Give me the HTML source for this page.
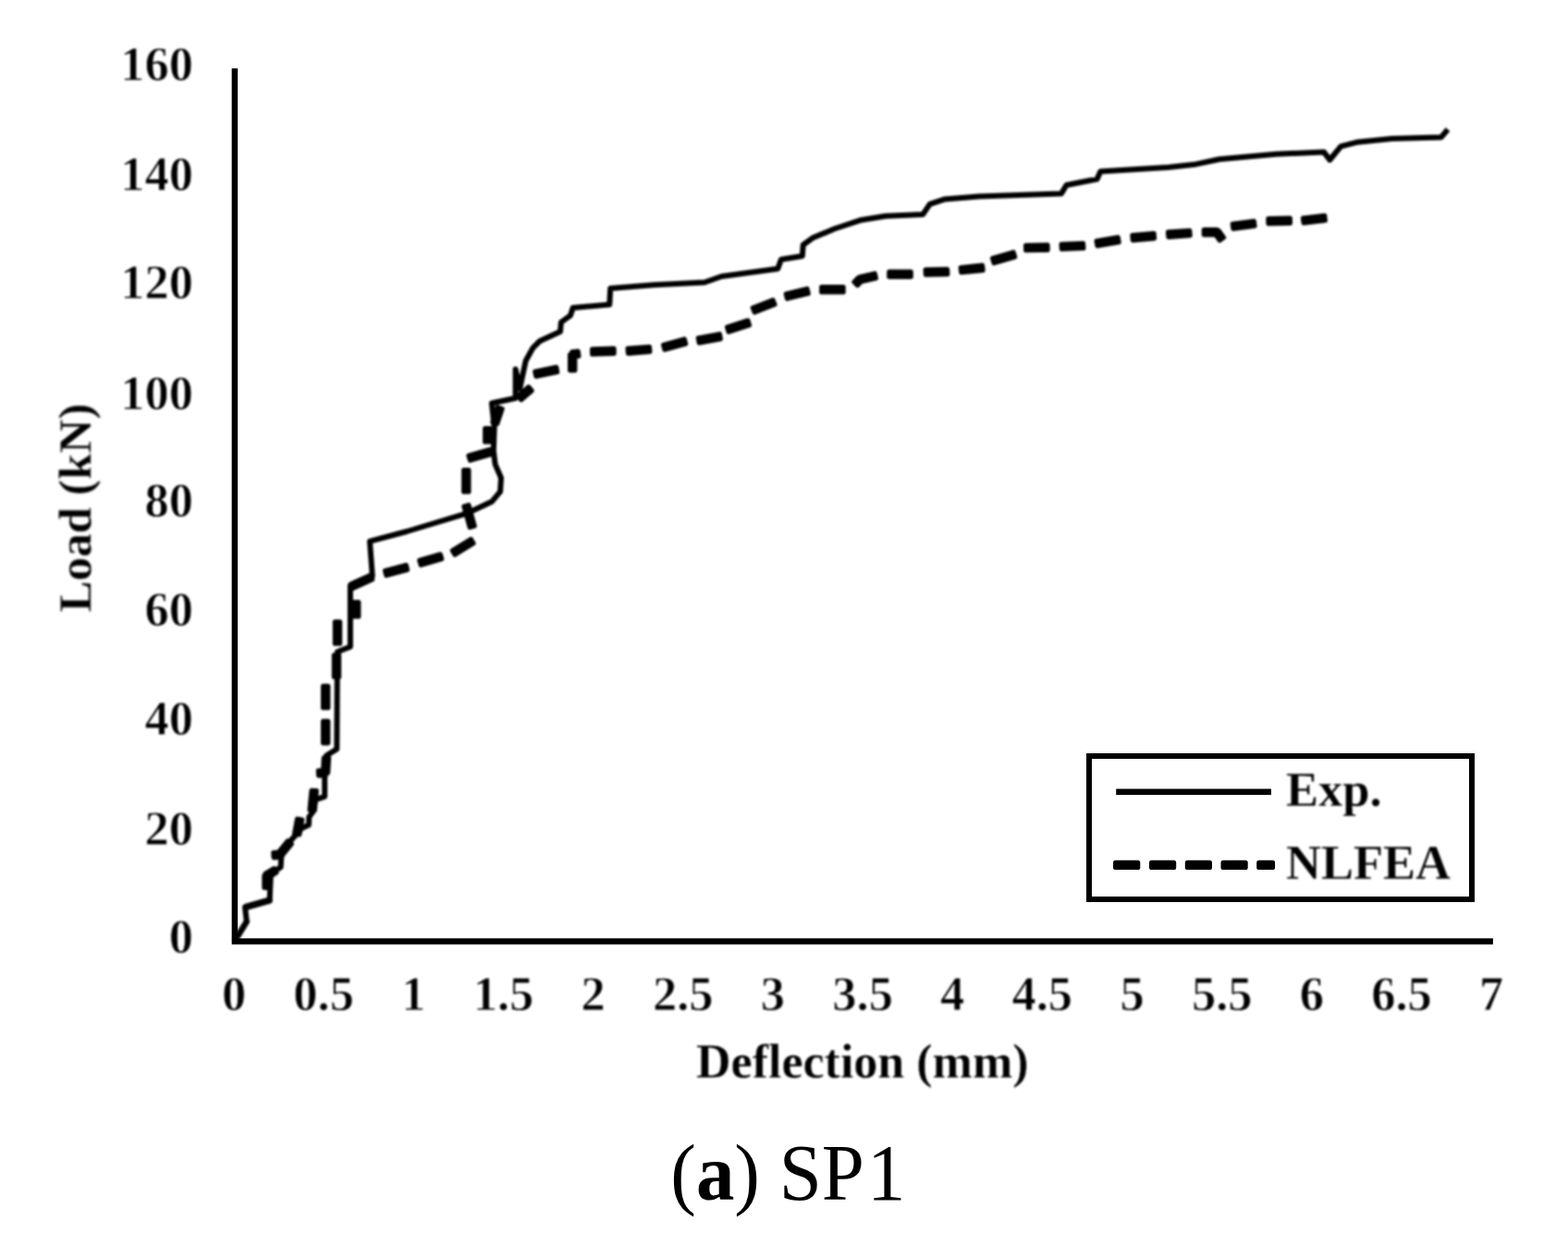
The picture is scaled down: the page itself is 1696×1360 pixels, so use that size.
<!DOCTYPE html>
<html lang="en">
<head>
<meta charset="utf-8">
<title>(a) SP1 - Load vs Deflection</title>
<style>
html,body{margin:0;padding:0;background:#fff;}
body{width:1696px;height:1360px;overflow:hidden;}
svg{display:block;}
text{font-family:"Liberation Serif", "DejaVu Serif", serif;fill:#000;}
.b{font-weight:bold;font-size:52.5px;stroke:#fff;stroke-width:0.8px;}
.w{stroke-width:0.3px;}
.t{font-size:52px;}
.yt{font-size:51.2px;}
.cap{font-size:86px;}
.ln{fill:none;stroke:#000;}
.dash{fill:#000;stroke:#000;stroke-width:5.2px;stroke-linejoin:round;}
</style>
</head>
<body>
<svg width="1696" height="1360" viewBox="0 0 1696 1360">
<defs><filter id="soft" x="0" y="0" width="1696" height="1360" filterUnits="userSpaceOnUse" color-interpolation-filters="sRGB"><feGaussianBlur stdDeviation="1.0"/></filter></defs>
<rect x="0" y="0" width="1696" height="1360" fill="#fff"/>
<!-- data series + text (slightly softened like the reference raster) -->
<g filter="url(#soft)">
<g class="b" text-anchor="end">
<text x="209" y="87">160</text>
<text x="209" y="206">140</text>
<text x="209" y="323">120</text>
<text x="209" y="442.5">100</text>
<text x="209" y="558.5">80</text>
<text x="209" y="677">60</text>
<text x="209" y="795">40</text>
<text x="209" y="914">20</text>
<text x="209" y="1031">0</text>
</g>
<g class="b" text-anchor="middle">
<text x="253" y="1093">0</text>
<text x="350.1" y="1093">0.5</text>
<text x="447.3" y="1093">1</text>
<text x="544.5" y="1093">1.5</text>
<text x="641.6" y="1093">2</text>
<text x="738.8" y="1093">2.5</text>
<text x="835.9" y="1093">3</text>
<text x="933.1" y="1093">3.5</text>
<text x="1030.2" y="1093">4</text>
<text x="1127.3" y="1093">4.5</text>
<text x="1224.5" y="1093">5</text>
<text x="1321.7" y="1093">5.5</text>
<text x="1418.8" y="1093">6</text>
<text x="1516" y="1093">6.5</text>
<text x="1613.1" y="1093">7</text>
</g>
<text class="b w t" text-anchor="middle" x="932.8" y="1166">Deflection (mm)</text>
<text class="b w yt" text-anchor="middle" transform="translate(98.3,549.5) rotate(-90)">Load (kN)</text>
<path class="ln" d="M254,1018 L266.8,997.1 L265,981.5 L291.7,974 L292.1,963.1 L292.9,945 L303.6,938.2 L304.3,927 L306,919 L326.5,896 L334,892.5 L334.3,884 L339.4,877 L340.6,865.5 L351.2,861.8 L351.2,837 L353,817.5 L364.3,810.5 L364.9,705.2 L378.9,699.7 L378.9,633.5 L402.8,623.4 L400,585.7 L440,575 L504.3,555.7 L531.9,542.8 L541.1,531.8 L542,517 L535.6,502.4 L533.8,487.6 L534.7,461.9 L531.9,436.2 L557.6,430.7 L557.6,399.4 L562.2,420.5 L568.7,390.2 L576.5,376.3 L583.9,368.9 L606,358.8 L606.9,348.7 L617,341.3 L619.7,333 L659.3,329.4 L660.2,311.9 L707,308.2 L762.2,305.5 L780.6,299 L841.3,290.8 L844.9,280.7 L867.8,277 L868.7,265 L878.8,257.6 L902.7,247.5 L930.3,238.3 L957.9,233.7 L998.3,231.9 L1005.7,220.9 L1022.2,215.4 L1059,212.6 L1148,209.4 L1153.5,200.2 L1186.6,193.8 L1190.3,185.5 L1263.8,180.9 L1291.4,178.1 L1319,172.2 L1380,166.8 L1431.9,164.4 L1438.3,173 L1450.3,158.3 L1468.7,153.7 L1505.4,150 L1558.7,148.6 L1566,140" stroke-width="6.0" stroke-linejoin="round"/>
<path class="ln" d="M257,1013 L266.8,997.1" stroke-width="6.4" stroke-linecap="round"/>
<path class="ln" d="M266.5,981.3 L291,974.3" stroke-width="7.4" stroke-linecap="round"/>
<g class="dash">
<path d="M291.1,960.3 L291.1,947.5 L285.9,947.5 L285.9,960.3Z M289.9,949.7 L298.9,944.1 L296.2,939.7 L287.1,945.3Z"/>
<path d="M296.2,927.9 L302.7,927.4 L302.3,922.2 L295.8,922.7Z M304.5,926.4 L315.3,913.2 L311.2,909.9 L300.5,923.2Z"/>
<path d="M323.8,902.9 L326.7,887.1 L321.5,886.1 L318.6,901.9Z"/>
<path d="M340.3,876.7 L342.3,855.7 L337.1,855.3 L335.1,876.3Z"/>
<path d="M344.7,839.1 L352.2,838.6 L351.8,833.4 L344.4,833.9Z M354.6,836.2 L355.6,820.2 L350.4,819.9 L349.4,835.8Z"/>
<path d="M354.8,803.8 L354.8,780.4 L349.6,780.4 L349.6,803.8Z"/>
<path d="M354.8,765.7 L354.8,742.3 L349.6,742.3 L349.6,765.7Z"/>
<path d="M366.6,732.2 L366.6,708.8 L361.4,708.8 L361.4,732.2Z"/>
<path d="M367.6,696.2 L367.6,672.8 L362.4,672.8 L362.4,696.2Z"/>
<path d="M387.8,666.9 L387.8,651.6 L382.6,651.6 L382.6,666.9Z"/>
<path d="M381.4,636.7 L402.7,627 L400.6,622.3 L379.3,632Z"/>
<path d="M417.9,622.5 L440.5,616.5 L439.2,611.5 L416.6,617.5Z"/>
<path d="M455.3,611.3 L477.7,604.8 L476.2,599.8 L453.8,606.3Z"/>
<path d="M492.1,600.1 L512,587.9 L509.3,583.4 L489.4,595.6Z"/>
<path d="M513.2,569.1 L506.9,546.5 L501.9,547.9 L508.2,570.5Z"/>
<path d="M506.9,532 L506.9,508.6 L501.7,508.6 L501.7,532Z"/>
<path d="M508.5,498.1 L531,491.5 L529.5,486.5 L507,493.1Z"/>
<path d="M529.9,477.9 L529.9,463.6 L524.7,463.6 L524.7,477.9Z"/>
<path d="M537.8,458.3 L543.1,442.4 L538.2,440.7 L532.9,456.6Z"/>
<path d="M563.8,432.5 L575.1,422.8 L571.7,418.8 L560.4,428.5Z"/>
<path d="M579.8,407.1 L602.7,402.4 L601.7,397.3 L578.8,402Z"/>
<path d="M621.8,400.6 L621.8,383.5 L616.6,383.5 L616.6,400.6Z M619.6,386.1 L625.9,385.1 L625.1,380 L618.8,380.9Z"/>
<path d="M640.7,383.1 L664.1,382.3 L664,377.1 L640.6,377.9Z"/>
<path d="M679.5,382.3 L702.8,380.5 L702.4,375.3 L679.1,377.1Z"/>
<path d="M719,378.2 L741.6,372 L740.2,367 L717.6,373.2Z"/>
<path d="M756.3,370.9 L779.3,366.6 L778.3,361.5 L755.3,365.8Z"/>
<path d="M788.1,358.9 L810.4,351.8 L808.9,346.8 L786.6,353.9Z"/>
<path d="M816.2,337.9 L837.9,329.4 L836,324.6 L814.3,333.1Z"/>
<path d="M851.5,323.1 L874.2,317.5 L873,312.5 L850.3,318.1Z"/>
<path d="M888.7,315.9 L912.1,315.9 L912.1,310.7 L888.7,310.7Z"/>
<path d="M927.5,308.6 L932.1,304 L928.5,300.4 L923.9,305Z M930.9,304.7 L947.4,301 L946.2,296 L929.7,299.7Z"/>
<path d="M961.8,299.3 L985.2,299.3 L985.2,294.1 L961.8,294.1Z"/>
<path d="M1001.4,297.1 L1024.8,296.6 L1024.6,291.4 L1001.2,291.9Z"/>
<path d="M1039.8,294.7 L1063.1,292.4 L1062.5,287.2 L1039.2,289.5Z"/>
<path d="M1075.1,284.6 L1097.6,277.9 L1096.1,272.9 L1073.6,279.6Z"/>
<path d="M1109.7,270.7 L1133.1,270.4 L1133,265.2 L1109.6,265.5Z"/>
<path d="M1148.4,269.5 L1171.8,268.5 L1171.5,263.3 L1148.1,264.3Z"/>
<path d="M1187,265.9 L1210.1,261.9 L1209.2,256.8 L1186.1,260.8Z"/>
<path d="M1225.3,259.8 L1248.5,257.8 L1248.1,252.6 L1224.9,254.6Z"/>
<path d="M1263.9,256.3 L1287.1,254.7 L1286.7,249.5 L1263.5,251.1Z"/>
<path d="M1302.3,253.8 L1316.2,253.8 L1316.2,248.6 L1302.3,248.6Z M1314.1,252.7 L1319.3,260 L1323.5,257 L1318.3,249.7Z"/>
<path d="M1334,247.5 L1357,244.4 L1356.3,239.3 L1333.3,242.4Z"/>
<path d="M1372,241.8 L1395.4,241.4 L1395.3,236.2 L1371.9,236.6Z"/>
<path d="M1410.1,241.2 L1433.3,238.5 L1432.7,233.3 L1409.5,236Z"/>
</g>
<text class="b w" x="1391" y="872">Exp.</text>
<text class="b w" x="1391" y="950.6">NLFEA</text>
</g>
<!-- axes + legend frame (crisp) -->
<path class="ln" d="M253.9,74.1 L253.9,1018.5 L1614.9,1018.5" stroke-width="6.5" stroke-linejoin="miter"/>
<rect class="ln" x="1178" y="818" width="414" height="155" stroke-width="6"/>
<path class="ln" d="M1207.2,856.7 L1375,856.7" stroke-width="6.6"/>
<g class="dash">
<path d="M1206.6,938.4 L1230.7,938.4 L1230.7,933.4 L1206.6,933.4Z"/>
<path d="M1245.6,938.4 L1269.6,938.4 L1269.6,933.4 L1245.6,933.4Z"/>
<path d="M1284.4,938.4 L1308.4,938.4 L1308.4,933.4 L1284.4,933.4Z"/>
<path d="M1323.1,938.4 L1347.1,938.4 L1347.1,933.4 L1323.1,933.4Z"/>
<path d="M1361.8,938.4 L1376.5,938.4 L1376.5,933.4 L1361.8,933.4Z"/>
</g>
<text class="cap" transform="translate(725.3,1298) scale(0.9638,1)">(<tspan font-weight="bold">a</tspan>) SP<tspan dx="3.3">1</tspan></text>
</svg>
</body>
</html>
